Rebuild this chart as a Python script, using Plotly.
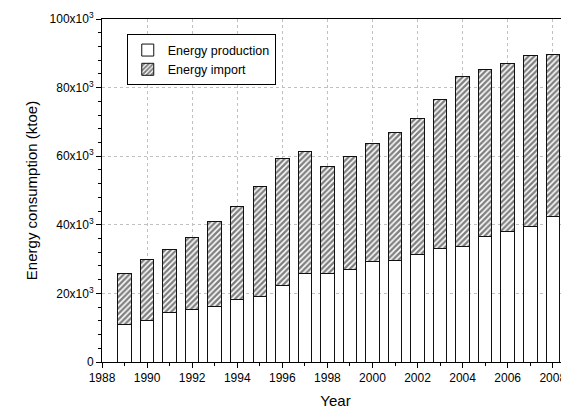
import plotly.graph_objects as go

years = list(range(1989, 2009))
production = [10.8, 12.2, 14.3, 15.3, 16.2, 18.1, 19.2, 22.2, 25.8, 25.9,
              27.0, 29.2, 29.5, 31.2, 33.0, 33.6, 36.5, 38.0, 39.4, 42.4]
total = [25.9, 29.9, 32.8, 36.4, 41.0, 45.2, 51.3, 59.3, 61.3, 57.0,
         59.9, 63.6, 66.9, 71.1, 76.5, 83.1, 85.4, 86.9, 89.3, 89.6]
production_ktoe = [v * 1000 for v in production]
import_ktoe = [(t - p) * 1000 for t, p in zip(total, production)]

ytick_vals = [0, 20000, 40000, 60000, 80000, 100000]
ytick_text = ["0", "20x10<sup>3</sup>", "40x10<sup>3</sup>", "60x10<sup>3</sup>",
              "80x10<sup>3</sup>", "100x10<sup>3</sup>"]
xtick_vals = list(range(1988, 2010, 2))

font = "Liberation Sans, Arial, sans-serif"

fig = go.Figure()
fig.add_trace(go.Bar(
    x=years, y=production_ktoe, name="Energy production", width=0.6,
    marker=dict(color="white", line=dict(color="#111111", width=1)),
))
fig.add_trace(go.Bar(
    x=years, y=import_ktoe, name="Energy import", width=0.6,
    marker=dict(color="white", line=dict(color="#111111", width=1),
                pattern=dict(shape="/", fgcolor="black", bgcolor="white",
                             size=4, solidity=0.6)),
))

# page body has an 8px margin, so the figure is sized to fill the rest
fig.update_layout(
    barmode="stack",
    width=561, height=408,
    margin=dict(l=94, r=0, t=11, b=54, autoexpand=False),
    paper_bgcolor="white", plot_bgcolor="white",
    font=dict(family=font, size=12, color="black"),
    showlegend=True,
    legend=dict(x=0.053, y=0.955, xanchor="left", yanchor="top",
                bgcolor="white", bordercolor="black", borderwidth=1,
                font=dict(size=12.5), traceorder="normal",
                tracegroupgap=0, itemwidth=30),
    xaxis=dict(
        range=[1988, 2008.72], tickvals=xtick_vals, ticks="outside",
        ticklen=5, tickwidth=1, tickcolor="black",
        showline=True, linecolor="black", linewidth=1, mirror=True,
        showgrid=True, gridcolor="#c0c0c0", griddash="dot", gridwidth=1,
        zeroline=False, automargin=False,
        minor=dict(dtick=1, ticks="outside", ticklen=3, tickcolor="black", showgrid=False),
        title=dict(text="Year", font=dict(size=15), standoff=11),
        tickfont=dict(size=12),
    ),
    yaxis=dict(
        range=[0, 100000], tickvals=ytick_vals, ticktext=ytick_text,
        ticks="outside", ticklen=5, tickwidth=1, tickcolor="black",
        showline=True, linecolor="black", linewidth=1,
        showgrid=True, gridcolor="#c0c0c0", griddash="dot", gridwidth=1,
        zeroline=False, automargin=False,
        minor=dict(dtick=4000, tick0=0, ticks="outside", ticklen=3, tickcolor="black", showgrid=False),
        title=dict(text="Energy consumption (ktoe)", font=dict(size=15), standoff=8),
        tickfont=dict(size=12),
    ),
)

fig.write_html("out.html")
